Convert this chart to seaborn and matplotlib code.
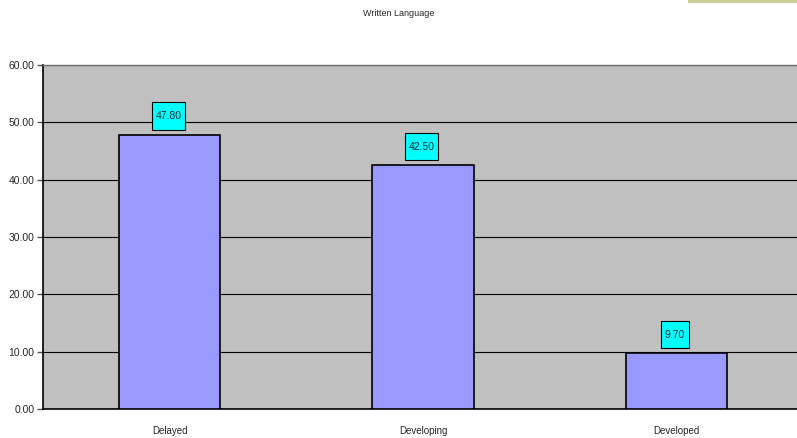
import matplotlib
matplotlib.use("Agg")
import matplotlib.pyplot as plt
from matplotlib.path import Path
import seaborn as sns
import pandas as pd

categories = ["Delayed", "Developing", "Developed"]
values = [47.80, 42.50, 9.70]
y_ticks = [0, 10, 20, 30, 40, 50, 60]
title = "Written Language"

df = pd.DataFrame({"category": categories, "value": values})

sns.set_style("white")
plt.rcParams["font.family"] = ["Liberation Sans", "DejaVu Sans"]

W, H = 797, 438
fig = plt.figure(figsize=(W / 100, H / 100), dpi=100)
# plot area runs slightly past the right edge of the figure
ax = fig.add_axes([43 / W, 1 - 409 / H, 760 / W, (409 - 65) / H])
ax.set_facecolor("#C0C0C0")

sns.barplot(data=df, x="category", y="value", ax=ax, color="#9999FF",
            saturation=1, width=0.40, edgecolor="black", linewidth=1.2, zorder=3)

ax.set_ylim(0, 60)
ax.set_xlim(-0.5, 2.5)
ax.set_yticks(y_ticks)
ax.set_yticklabels([f"{v:.2f}" for v in y_ticks], fontsize=7.5)
ax.yaxis.grid(True, color="black", linewidth=0.8, zorder=1)
ax.set_axisbelow(True)

# category labels centred, tick marks at category boundaries
ax.set_xticks([0, 1, 2])
ax.set_xticklabels(categories, fontsize=7)
ax.tick_params(axis="x", length=0, pad=12)
ax.set_xticks([0.5, 1.5], minor=True)
ax.tick_params(axis="x", which="minor", length=4, width=1, color="#555555")
ax.tick_params(axis="y", length=4, width=1, color="#555555", direction="out", left=True, pad=2)

ax.set_xlabel("")
ax.set_ylabel("")

for side in ["left", "bottom"]:
    ax.spines[side].set_color("black")
    ax.spines[side].set_linewidth(1.2)
ax.spines["top"].set_color("#707070")
ax.spines["top"].set_linewidth(1.0)
ax.spines["right"].set_visible(False)


def tall_box(x0, y0, width, height, mutation_size):
    """Rectangle with small side padding and generous top/bottom padding."""
    px = 0.35 * mutation_size
    py = 0.85 * mutation_size
    x0, x1 = x0 - px, x0 + width + px
    y0, y1 = y0 - py, y0 + height + py
    return Path([(x0, y0), (x1, y0), (x1, y1), (x0, y1), (x0, y0)], closed=True)


for i, v in enumerate(values):
    ax.annotate(f"{v:.2f}", xy=(i, v), xytext=(-1, 13.5), textcoords="offset points",
                ha="center", va="center", fontsize=7.5, zorder=5,
                bbox=dict(boxstyle=tall_box, facecolor="#00FFFF",
                          edgecolor="black", linewidth=0.8))

fig.text(0.5, 1 - 13 / H, title, ha="center", va="center", fontsize=6.5)

# decorative strip in the top-right corner
fig.patches.append(plt.Rectangle((688 / W, 1 - 3 / H), 109 / W, 3 / H,
                                 transform=fig.transFigure, facecolor="#CCCC99",
                                 edgecolor="none"))

fig.savefig("out.png", dpi=100)
